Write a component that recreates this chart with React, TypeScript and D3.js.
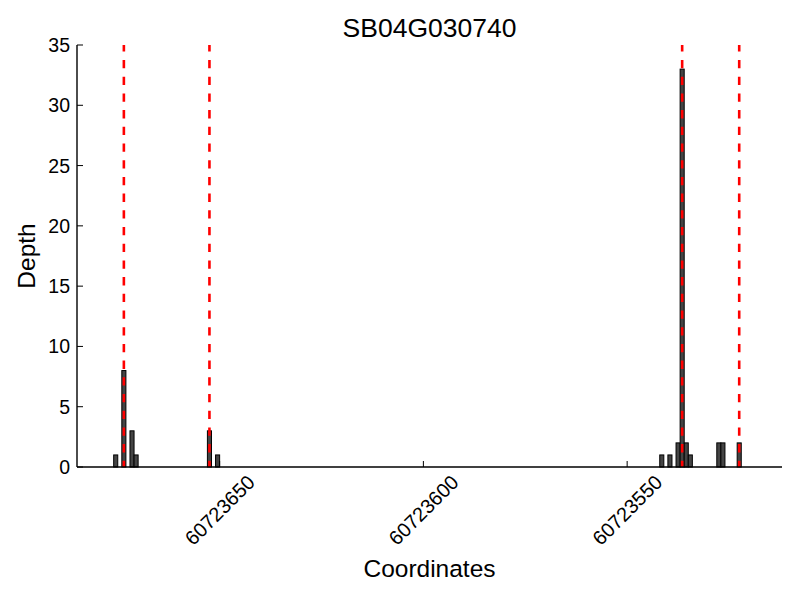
import React, { useEffect, useRef } from "react";
import * as d3 from "d3";

// coverage depth per base (bars start at the coordinate, 1 bp wide)
const barCoords = [
  60723675, 60723673, 60723671, 60723670, 60723652, 60723650,
  60723541, 60723539, 60723537, 60723536, 60723535, 60723534,
  60723527, 60723526, 60723522,
];
const barDepths = [1, 8, 3, 1, 3, 1, 1, 1, 2, 33, 2, 1, 2, 2, 2];

// exon boundaries (red dashed)
const boundaries = [60723673.5, 60723652.5, 60723536.5, 60723522.5];

const xTicks = [60723650, 60723600, 60723550];
const yTicks = [0, 5, 10, 15, 20, 25, 30, 35];
const xDomain = [60723685, 60723512];
const yDomain = [0, 35];

const FONT = "'Liberation Sans', Arial, Helvetica, sans-serif";

const App = () => {
  const ref = useRef<SVGSVGElement>(null);

  useEffect(() => {
    const width = 800;
    const height = 600;
    const margin = { top: 45, right: 18, bottom: 133, left: 77 };

    const svg = d3.select(ref.current);
    svg.selectAll("*").remove();

    const x = d3.scaleLinear()
      .domain(xDomain)
      .range([margin.left, width - margin.right]);

    const y = d3.scaleLinear()
      .domain(yDomain)
      .range([height - margin.bottom, margin.top]);

    const bars = barCoords.map((c, i) => ({ c, d: barDepths[i] }));

    svg.append("rect")
      .attr("width", width)
      .attr("height", height)
      .attr("fill", "white");

    // bars
    svg.append("g")
      .selectAll("rect")
      .data(bars)
      .enter().append("rect")
      .attr("x", d => x(d.c + 1))
      .attr("y", d => y(d.d))
      .attr("width", d => x(d.c) - x(d.c + 1))
      .attr("height", d => y(0) - y(d.d))
      .attr("fill", "#444444")
      .attr("stroke", "black")
      .attr("stroke-width", 1);

    // boundaries
    svg.append("g")
      .selectAll("line")
      .data(boundaries)
      .enter().append("line")
      .attr("x1", d => x(d))
      .attr("x2", d => x(d))
      .attr("y1", y(35))
      .attr("y2", y(0))
      .attr("stroke", "red")
      .attr("stroke-width", 2.6)
      .attr("stroke-dasharray", "8.3 8.4")
      .attr("stroke-dashoffset", 1.7);

    // spines
    svg.append("line")
      .attr("x1", x.range()[0]).attr("x2", x.range()[1])
      .attr("y1", y(0)).attr("y2", y(0))
      .attr("stroke", "black").attr("stroke-width", 1.4);
    svg.append("line")
      .attr("x1", x.range()[0]).attr("x2", x.range()[0])
      .attr("y1", y(0)).attr("y2", y(35))
      .attr("stroke", "black").attr("stroke-width", 1.4);

    // y ticks (inward)
    const yg = svg.append("g");
    yg.selectAll("line")
      .data(yTicks)
      .enter().append("line")
      .attr("x1", margin.left).attr("x2", margin.left + 6)
      .attr("y1", d => y(d)).attr("y2", d => y(d))
      .attr("stroke", "black").attr("stroke-width", 1);
    yg.selectAll("text")
      .data(yTicks)
      .enter().append("text")
      .attr("x", margin.left - 7)
      .attr("y", d => y(d))
      .attr("dy", "0.36em")
      .attr("text-anchor", "end")
      .attr("font-family", FONT)
      .attr("font-size", 19.5)
      .text(d => d);

    // x ticks (inward), rotated labels
    const xg = svg.append("g");
    xg.selectAll("line")
      .data(xTicks)
      .enter().append("line")
      .attr("x1", d => x(d)).attr("x2", d => x(d))
      .attr("y1", y(0)).attr("y2", y(0) - 6)
      .attr("stroke", "black").attr("stroke-width", 1);
    xg.selectAll("text")
      .data(xTicks)
      .enter().append("text")
      .attr("transform", d => `translate(${x(d)},${y(0) + 43}) rotate(-45)`)
      .attr("dy", "0.36em")
      .attr("text-anchor", "middle")
      .attr("font-family", FONT)
      .attr("font-size", 20)
      .text(d => d);

    // labels
    svg.append("text")
      .attr("x", (x.range()[0] + x.range()[1]) / 2)
      .attr("y", 577)
      .attr("text-anchor", "middle")
      .attr("font-family", FONT)
      .attr("font-size", 24.5)
      .text("Coordinates");

    svg.append("text")
      .attr("transform", `translate(35,${(y(0) + y(35)) / 2}) rotate(-90)`)
      .attr("text-anchor", "middle")
      .attr("font-family", FONT)
      .attr("font-size", 24.5)
      .text("Depth");

    svg.append("text")
      .attr("x", (x.range()[0] + x.range()[1]) / 2)
      .attr("y", 37)
      .attr("text-anchor", "middle")
      .attr("font-family", FONT)
      .attr("font-size", 26.5)
      .text("SB04G030740");
  }, []);

  return (
    <svg
      ref={ref}
      width={800}
      height={600}
      style={{ position: "absolute", left: 0, top: 0, display: "block" }}
    ></svg>
  );
};

export default App;
